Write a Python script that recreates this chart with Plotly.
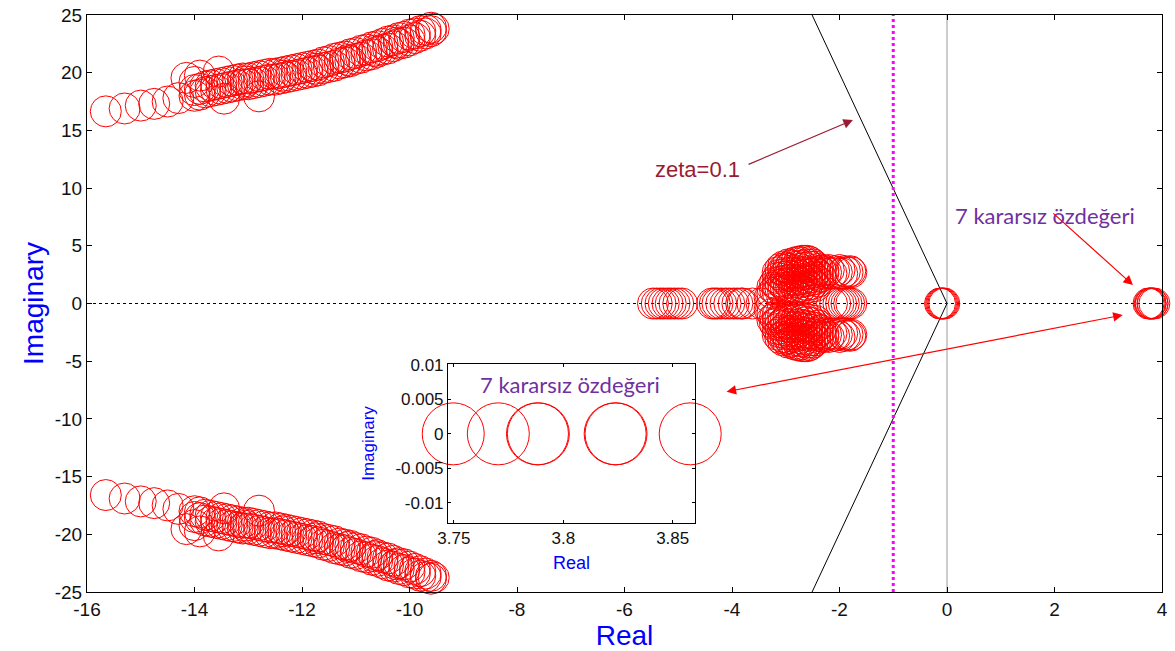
import plotly.graph_objects as go

# ---------------- data ----------------
# complex-conjugate band (shared real parts), upper and lower imaginary parts
band_re = [-15.65, -15.3, -15.0, -14.75, -14.5, -14.3, -14.15, -13.9, -13.55, -14.0,
           -13.45, -12.8, -14.0, -13.9, -13.8, -13.7, -13.6, -13.5, -13.4, -13.3,
           -13.2, -13.1, -13.0, -12.9, -12.8, -12.7, -12.6, -12.5, -12.4, -12.3,
           -12.2, -12.1, -12.0, -11.9, -11.8, -11.7, -11.6, -11.5, -11.4, -11.3,
           -11.2, -11.1, -11.0, -10.9, -10.8, -10.7, -10.6, -10.5, -10.4, -10.3,
           -10.2, -10.1, -10.0, -9.9, -9.8, -9.7, -9.6, -9.55,
           -14.0, -13.9, -13.8, -13.7, -13.6, -13.5, -13.4, -13.3, -13.2, -13.1,
           -13.0, -12.9, -12.8, -12.7, -12.6, -12.5, -12.4, -12.3, -12.2, -12.1,
           -12.0, -11.9, -11.8, -11.7, -11.6, -11.5, -11.4, -11.3, -11.2, -11.1,
           -11.0, -10.9, -10.8, -10.7, -10.6, -10.5, -10.4, -10.3, -10.2, -10.1,
           -10.0, -9.9, -9.8, -9.7, -9.6,
           -13.05, -12.35, -11.75, -11.15, -10.65, -10.25]
band_up_im = [16.65, 16.9, 17.15, 17.3, 17.5, 17.8, 19.55, 19.75, 20.1, 19.2,
              17.75, 17.95, 18.0, 18.1, 18.3, 18.4, 18.5, 18.6, 18.7, 18.8,
              18.9, 19.0, 19.0, 19.1, 19.2, 19.3, 19.4, 19.4, 19.5, 19.6,
              19.7, 19.8, 19.9, 20.0, 20.1, 20.2, 20.4, 20.5, 20.6, 20.8,
              20.9, 21.0, 21.2, 21.3, 21.5, 21.6, 21.8, 22.0, 22.1, 22.3,
              22.5, 22.6, 22.8, 23.0, 23.2, 23.4, 23.6, 23.8,
              18.5, 18.6, 18.8, 18.9, 19.0, 19.1, 19.2, 19.3, 19.4, 19.5,
              19.5, 19.6, 19.7, 19.8, 19.9, 19.9, 20.0, 20.1, 20.2, 20.3,
              20.4, 20.5, 20.6, 20.7, 20.9, 21.0, 21.2, 21.3, 21.4, 21.6,
              21.7, 21.9, 22.0, 22.2, 22.3, 22.5, 22.7, 22.8, 23.0, 23.1,
              23.3, 23.4, 23.6, 23.7, 23.9,
              19.25, 19.75, 20.35, 21.1, 21.9, 22.6]
band_dn_im = [-16.6, -16.9, -17.15, -17.3, -17.5, -17.8, -19.55, -19.75, -20.1, -19.2,
              -17.75, -17.95, -18.0, -18.1, -18.3, -18.4, -18.5, -18.6, -18.7, -18.8,
              -18.9, -19.0, -19.0, -19.1, -19.2, -19.3, -19.4, -19.4, -19.5, -19.6,
              -19.7, -19.8, -19.9, -20.0, -20.1, -20.2, -20.4, -20.5, -20.6, -20.8,
              -20.9, -21.0, -21.2, -21.3, -21.5, -21.6, -21.8, -22.0, -22.1, -22.3,
              -22.5, -22.6, -22.8, -23.0, -23.2, -23.4, -23.6, -23.75,
              -18.5, -18.6, -18.8, -18.9, -19.0, -19.1, -19.2, -19.3, -19.4, -19.5,
              -19.5, -19.6, -19.7, -19.8, -19.9, -19.9, -20.0, -20.1, -20.2, -20.3,
              -20.4, -20.5, -20.6, -20.7, -20.9, -21.0, -21.2, -21.3, -21.4, -21.6,
              -21.7, -21.9, -22.0, -22.2, -22.3, -22.5, -22.7, -22.8, -23.0, -23.1,
              -23.3, -23.4, -23.6, -23.7, -23.85,
              -19.25, -19.75, -20.35, -21.1, -21.9, -22.6]

# real-axis modes
real_modes = [-5.47, -5.4, -5.33, -5.27, -5.2, -5.14, -5.07, -5.0, -4.93,
              -4.37, -4.32, -4.27, -4.2, -4.12, -4.05, -3.97, -3.9, -3.83, -3.8,
              -3.62, -3.45,
              -2.14, -2.08, -2.02, -1.97, -1.92, -1.87, -1.82, -1.78,
              -0.13, -0.11, -0.09, -0.07, -0.05]

# central cluster (shared real parts), upper and lower imaginary parts
mid_re = [-3.3, -3.25, -3.25, -3.2, -3.2,
          -3.15, -3.15, -3.15, -3.15, -3.1, -3.1, -3.1, -3.1,
          -3.05, -3.05, -3.05, -3.05, -3.05, -3.0, -3.0, -3.0, -3.0,
          -2.95, -2.95, -2.95, -2.95, -2.95, -2.9, -2.9, -2.9, -2.9,
          -2.85, -2.85, -2.85, -2.85, -2.85, -2.8, -2.8, -2.8, -2.8, -2.8,
          -2.75, -2.75, -2.75, -2.75, -2.75, -2.7, -2.7, -2.7, -2.7, -2.7,
          -2.65, -2.65, -2.65, -2.65, -2.65, -2.6, -2.6, -2.6, -2.6, -2.6,
          -2.55, -2.55, -2.55, -2.55, -2.55, -2.5, -2.5, -2.5, -2.5,
          -2.45, -2.45, -2.45, -2.45, -2.4, -2.4, -2.4, -2.35, -2.35, -2.3, -2.3,
          -2.25, -2.2, -2.15, -2.1, -2.05, -2.0, -1.95, -1.9, -1.85, -1.8, -1.78]
mid_up_im = [0.5, 0.9, 1.4, 1.2, 1.8,
             1.0, 1.6, 2.2, 2.7, 1.3, 1.9, 2.5, 3.0,
             1.1, 1.7, 2.3, 2.9, 3.2, 1.4, 2.0, 2.6, 3.1,
             1.2, 1.8, 2.4, 3.0, 3.4, 1.5, 2.1, 2.7, 3.3,
             1.1, 1.7, 2.3, 2.9, 3.5, 1.4, 2.0, 2.6, 3.2, 3.6,
             1.2, 1.8, 2.4, 3.0, 3.6, 1.5, 2.1, 2.7, 3.3, 3.7,
             1.3, 1.9, 2.5, 3.1, 3.7, 1.6, 2.2, 2.8, 3.4, 3.7,
             1.4, 2.0, 2.6, 3.2, 3.6, 1.7, 2.3, 2.9, 3.4,
             1.5, 2.1, 2.7, 3.2, 1.9, 2.5, 3.0, 2.3, 2.8, 2.6, 2.9,
             2.7, 2.9, 2.6, 2.8, 2.7, 2.9, 2.6, 2.8, 2.7, 2.8, 2.7]
mid_dn_im = [-0.5, -0.9, -1.4, -1.2, -1.8,
             -1.0, -1.6, -2.2, -2.7, -1.3, -1.9, -2.5, -3.0,
             -1.1, -1.7, -2.3, -2.9, -3.2, -1.4, -2.0, -2.6, -3.1,
             -1.2, -1.8, -2.4, -3.0, -3.4, -1.5, -2.1, -2.7, -3.3,
             -1.1, -1.7, -2.3, -2.9, -3.5, -1.4, -2.0, -2.6, -3.2, -3.6,
             -1.2, -1.8, -2.4, -3.0, -3.6, -1.5, -2.1, -2.7, -3.3, -3.7,
             -1.3, -1.9, -2.5, -3.1, -3.7, -1.6, -2.2, -2.8, -3.4, -3.7,
             -1.4, -2.0, -2.6, -3.2, -3.6, -1.7, -2.3, -2.9, -3.4,
             -1.5, -2.1, -2.7, -3.2, -1.9, -2.5, -3.0, -2.3, -2.8, -2.6, -2.9,
             -2.7, -2.9, -2.6, -2.8, -2.7, -2.9, -2.6, -2.8, -2.7, -2.8, -2.7]

# 7 unstable eigenvalues
unstable_re = [3.7497, 3.7703, 3.7882, 3.7886, 3.8237, 3.8241, 3.858]
unstable_im = [0, 0, 0, 0, 0, 0, 0]

# zeta = 0.1 boundary and alpha = -1 line
zeta_re = [-2.51, 0, -2.51]
zeta_im = [25, 0, -25]
alpha_re = [-1, -1]
alpha_im = [-25, 25]

x_range = [-16, 4]
y_range = [-25, 25]
x_ticks = [-16, -14, -12, -10, -8, -6, -4, -2, 0, 2, 4]
x_labels = ["-16", "-14", "-12", "-10", "-8", "-6", "-4", "-2", "0", "2", "4"]
y_ticks = [-25, -20, -15, -10, -5, 0, 5, 10, 15, 20, 25]
y_labels = ["-25", "-20", "-15", "-10", "-5", "0", "5", "10", "15", "20", "25"]
inset_x_range = [3.7473, 3.8602]
inset_y_range = [-0.0129, 0.0101]
inset_x_ticks = [3.75, 3.8, 3.85]
inset_x_labels = ["3.75", "3.8", "3.85"]
inset_y_ticks = [-0.01, -0.005, 0, 0.005, 0.01]
inset_y_labels = ["-0.01", "-0.005", "0", "0.005", "0.01"]

RED = "#FF0000"
FONT = "Liberation Sans, Arial, sans-serif"
CAL = "Lato, Carlito, Calibri, sans-serif"

fig = go.Figure()

# reference lines
fig.add_trace(go.Scatter(x=x_range, y=[0, 0], mode="lines",
                         line=dict(color="black", width=1, dash="dot"), hoverinfo="skip"))
fig.add_trace(go.Scatter(x=[0, 0], y=y_range, mode="lines",
                         line=dict(color="#9a9a9a", width=1), hoverinfo="skip"))
fig.add_trace(go.Scatter(x=zeta_re, y=zeta_im, mode="lines",
                         line=dict(color="black", width=1), hoverinfo="skip"))
fig.add_trace(go.Scatter(x=alpha_re, y=alpha_im, mode="lines",
                         line=dict(color="#FF00FF", width=3, dash="dot"), hoverinfo="skip"))

mk = dict(symbol="circle-open", size=31, color=RED, line=dict(width=1, color=RED))
for xs, ys in [(band_re, band_up_im), (band_re, band_dn_im),
               (real_modes, [0] * len(real_modes)),
               (mid_re, mid_up_im), (mid_re, mid_dn_im),
               (unstable_re, unstable_im)]:
    fig.add_trace(go.Scatter(x=xs, y=ys, mode="markers", marker=mk, cliponaxis=False))

# inset
fig.add_trace(go.Scatter(x=unstable_re, y=unstable_im, mode="markers", xaxis="x2", yaxis="y2",
                         marker=dict(symbol="circle-open", size=62, color=RED,
                                     line=dict(width=1, color=RED)),
                         cliponaxis=False))

axis_common = dict(showgrid=False, zeroline=False, showline=True, linecolor="black",
                   linewidth=1, mirror="ticks", ticks="inside", ticklen=5,
                   tickcolor="black", automargin=False,
                   tickfont=dict(family=FONT, size=19, color="#111"))
inset_common = {**axis_common, "tickfont": dict(family=FONT, size=17, color="#111"),
                "ticklen": 3}

fig.update_layout(
    width=1175, height=651,
    margin=dict(l=87, r=13, t=15, b=59),
    paper_bgcolor="white", plot_bgcolor="white",
    showlegend=False,
    xaxis=dict(range=x_range, tickvals=x_ticks, ticktext=x_labels, **axis_common,
               title=dict(text="Real", font=dict(family=FONT, size=28, color="#0000FF"),
                          standoff=2)),
    yaxis=dict(range=y_range, tickvals=y_ticks, ticktext=y_labels, **axis_common,
               title=dict(text="Imaginary", font=dict(family=FONT, size=28, color="#0000FF"),
                          standoff=2)),
    xaxis2=dict(domain=[0.3358, 0.5656], anchor="y2", range=inset_x_range,
                tickvals=inset_x_ticks, ticktext=inset_x_labels, **inset_common,
                title=dict(text="Real", font=dict(family=FONT, size=18, color="#0000FF"),
                           standoff=9)),
    yaxis2=dict(domain=[0.1196, 0.3951], anchor="x2", range=inset_y_range,
                tickvals=inset_y_ticks, ticktext=inset_y_labels, **inset_common,
                title=dict(text="Imaginary", font=dict(family=FONT, size=17, color="#0000FF"),
                           standoff=16)),
)

# annotations
fig.add_annotation(x=-1.75, y=15.9, ax=-3.72, ay=12.0, xref="x", yref="y", axref="x", ayref="y",
                   text="", showarrow=True, arrowhead=2, arrowsize=1.6, arrowwidth=1.2,
                   arrowcolor="#9B1B30")
fig.add_annotation(x=-4.65, y=11.6, xref="x", yref="y", text="zeta=0.1", showarrow=False,
                   font=dict(family=FONT, size=22, color="#9B1B30"))

fig.add_annotation(x=1.83, y=7.6, xref="x", yref="y", text="7 kararsız özdeğeri", showarrow=False,
                   font=dict(family=CAL, size=22, color="#7030A0"))
fig.add_annotation(x=3.46, y=1.6, ax=1.95, ay=7.93, xref="x", yref="y", axref="x", ayref="y",
                   text="", showarrow=True, arrowhead=2, arrowsize=1.6, arrowwidth=1.2,
                   arrowcolor=RED)
fig.add_annotation(x=3.27, y=-1.0, ax=-4.13, ay=-7.67, xref="x", yref="y", axref="x", ayref="y",
                   text="", showarrow=True, arrowhead=2, arrowsize=1.6, arrowwidth=1.2,
                   arrowside="end+start", startarrowhead=2, startarrowsize=1.6,
                   arrowcolor=RED)
fig.add_annotation(x=3.803, y=0.0072, xref="x2", yref="y2", text="7 kararsız özdeğeri",
                   showarrow=False, font=dict(family=CAL, size=22, color="#7030A0"))

fig.write_html("out.html")
